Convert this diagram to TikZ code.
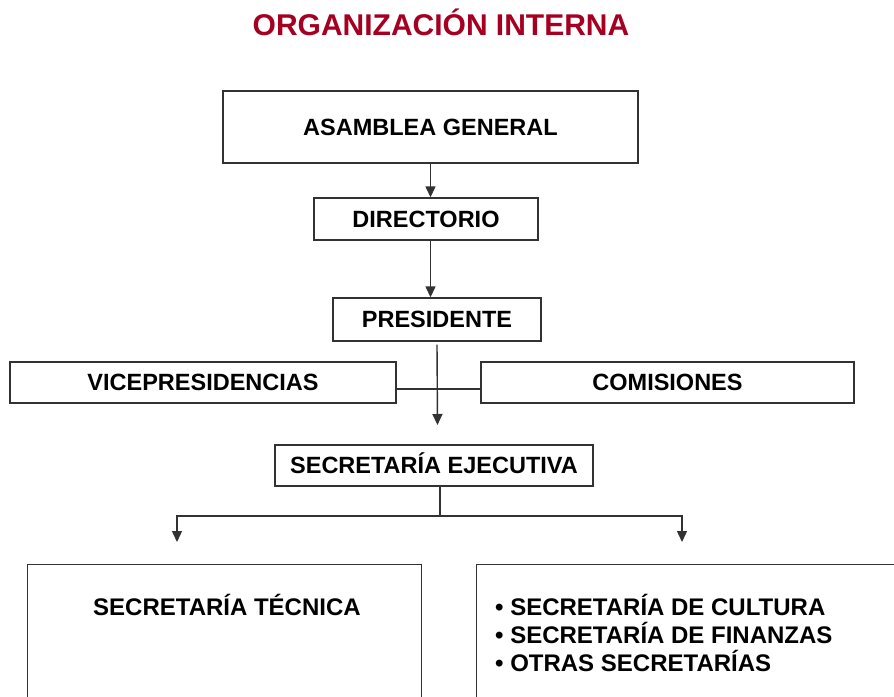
\documentclass[tikz,border=0pt]{standalone}
\usepackage{fontspec}
\setmainfont{Liberation Sans}
\usetikzlibrary{arrows.meta}
\definecolor{titlered}{RGB}{165,0,33}
\definecolor{linegray}{RGB}{50,50,50}
\begin{document}
\begin{tikzpicture}[x=1pt,y=-1pt,
  box/.style={draw=linegray, line width=1.4pt, inner sep=0pt, text height=16.8pt, text depth=0pt,
    font=\bfseries\fontsize{23.5}{28}\selectfont, align=center},
  lab/.style={inner sep=0pt, font=\bfseries\fontsize{24}{28}\selectfont},
  conn/.style={draw=linegray, line width=1.4pt},
  arr/.style={conn, -{Triangle[length=11pt,width=10pt]}}]
\fill[white] (0,0) rectangle (894,696);
\path[use as bounding box] (0,0) rectangle (894,696);
\node[font=\bfseries\fontsize{30}{36}\selectfont, text=titlered, anchor=base, inner sep=0pt] (title) at (441,35) {ORGANIZACIÓN INTERNA};
\node[box, minimum width=415pt, minimum height=72pt] (asam) at (430.5,127) {ASAMBLEA GENERAL};
\node[box, minimum width=224pt, minimum height=42pt] (dir) at (426,219) {DIRECTORIO};
\node[box, minimum width=208pt, minimum height=43pt] (pres) at (437,319.5) {PRESIDENTE};
\node[box, minimum width=386pt, minimum height=41pt] (vice) at (203,382.5) {VICEPRESIDENCIAS};
\node[box, minimum width=373pt, minimum height=41pt] (comi) at (667.5,382.5) {COMISIONES};
\node[box, minimum width=318pt, minimum height=41pt] (sej) at (434,465.5) {SECRETARÍA EJECUTIVA};
\begin{scope}
\clip (0,0) rectangle (894,696);
\node[box, minimum width=394pt, minimum height=160pt, anchor=north west] (tec) at (27,564) {};
\node[box, minimum width=440pt, minimum height=160pt, anchor=north west] (otras) at (476,564) {};
\end{scope}
\node[lab, anchor=base west] (tectxt) at (93,615) {SECRETARÍA TÉCNICA};
\node[lab, anchor=base west] (l1) at (495,615) {• SECRETARÍA DE CULTURA};
\node[lab, anchor=base west] (l2) at (495,643) {• SECRETARÍA DE FINANZAS};
\node[lab, anchor=base west] (l3) at (495,671) {• OTRAS SECRETARÍAS};
% connectors
\draw[arr] (asam.south) -- (asam.south |- dir.north);
\draw[arr] (asam.south |- dir.south) -- (asam.south |- pres.north);
\coordinate (presend) at (437.5,425);
\draw[arr] ([yshift=-3pt]pres.south) -- (presend);
\coordinate (hy) at (0,389);
\draw[conn] (vice.east |- hy) -- (comi.west |- hy);
\coordinate (split) at (440,516);
\coordinate (tipl) at (177,542);
\coordinate (tipr) at (682,542);
\draw[conn] (sej.south -| split) -- (split);
\draw[arr] (split) -| (tipl);
\draw[arr] (split) -| (tipr);
\end{tikzpicture}
\end{document}
